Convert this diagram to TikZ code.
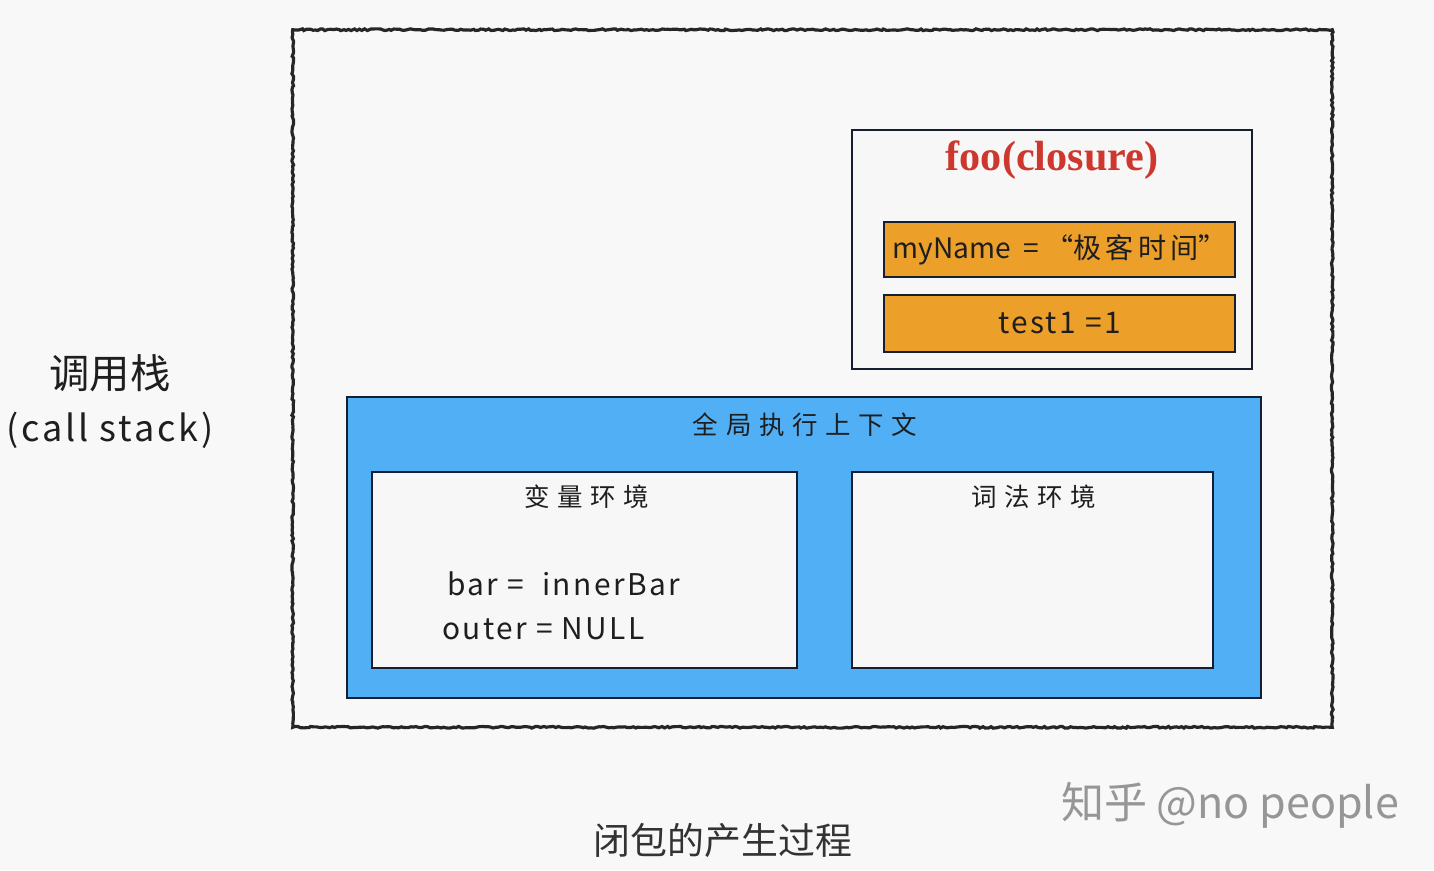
\documentclass[tikz,border=0pt]{standalone}
\usepackage{fontspec}
\setmainfont{Noto Sans CJK SC}
\newfontfamily\cjkweit[LetterSpace=30]{Noto Sans CJK SC}
\newfontfamily\cjkmittel[LetterSpace=15]{Noto Sans CJK SC}
\newfontfamily\leichtweit[LetterSpace=8]{Noto Sans CJK SC}
\newfontfamily\titelschrift{Liberation Serif}
\usetikzlibrary{positioning}
\usetikzlibrary{decorations.pathmorphing}
\definecolor{hgrund}{RGB}{248,248,248}
\definecolor{blaufeld}{RGB}{80,175,245}
\definecolor{orangefeld}{RGB}{236,160,42}
\definecolor{titelrot}{RGB}{205,55,45}
\definecolor{randdunkel}{RGB}{22,30,48}
\definecolor{schrift}{RGB}{30,30,30}
\definecolor{wasserzeichen}{RGB}{150,150,150}

\begin{document}
\begin{tikzpicture}[x=0.02cm, y=-0.02cm, % 1 Einheit = 1 Pixel
  kasten/.style={draw=randdunkel, line width=1.2pt, fill=white!97!black, inner sep=0pt},
  wertfeld/.style={draw=randdunkel, line width=1.2pt, fill=orangefeld, inner sep=0pt,
    minimum width=7.02cm, font=\fontsize{16}{19}\selectfont, text=schrift},
  beschriftung/.style={font=\cjkweit\fontsize{14.5}{17}\selectfont, text=schrift, inner sep=0pt},
  zuweisung/.style={anchor=west, inner sep=0pt, font=\leichtweit\fontsize{17}{20}\selectfont, text=schrift}]

% Hintergrund
\useasboundingbox (0,0) rectangle (1434,870);
\fill[hgrund] (0,0) rectangle (1434,870);

% Aufrufstapel
\node[minimum width=20.78cm, minimum height=13.94cm, inner sep=0pt] (stapel) at (812.5,378.5) {};
\draw[line width=1.8pt, black!85, decorate,
  decoration={random steps, segment length=1.5pt, amplitude=0.5pt}]
  (stapel.north west) rectangle (stapel.south east);

% Closure foo
\node[kasten, minimum width=8cm, minimum height=4.78cm] (foo) at (1052,249.5) {};
\node[font=\titelschrift\bfseries\fontsize{24}{27}\selectfont, text=titelrot] (fooTitel) at (1052,160) {foo(closure)};
\node[wertfeld, minimum height=1.1cm] (myName) at (1059.5,249.5) {myName \ = “{\cjkmittel 极客时间}”};
\node[wertfeld, font=\leichtweit\fontsize{17}{20}\selectfont, minimum height=1.14cm] (test) at (1059.5,323.5) {test1 =1};

% Globaler Ausführungskontext
\node[kasten, fill=blaufeld, minimum width=18.28cm, minimum height=6.02cm] (global) at (804,547.5) {};
\node[beschriftung] (globalTitel) at (805,425) {全局执行上下文};

\node[kasten, minimum width=8.5cm, minimum height=3.92cm] (varUmg) at (584.5,570) {};
\node[beschriftung] (varTitel) at (587,497) {变量环境};
\node[kasten, minimum width=7.22cm, minimum height=3.92cm] (lexUmg) at (1032.5,570) {};
\node[beschriftung] (lexTitel) at (1034,497) {词法环境};

\node[zuweisung] (bar) at (447,584) {bar = \ innerBar};
\node[zuweisung] (outer) at (442,629) {outer = NULL};

% Beschriftung links
\node[font=\fontsize{23}{26}\selectfont, text=schrift] (stapelName) at (110,373) {调用栈};
\node[font=\leichtweit\fontsize{20.5}{24}\selectfont, text=schrift] (stapelEn) at (110,430) {(call stack)};

% Unterschrift
\node[font=\fontsize{21}{24}\selectfont, text=black!80] (titel) at (723,840) {闭包的产生过程};
\node[font=\fontsize{24.5}{28}\selectfont, text=wasserzeichen] (marke) at (1230,805) {知乎 @no people};

\end{tikzpicture}
\end{document}
